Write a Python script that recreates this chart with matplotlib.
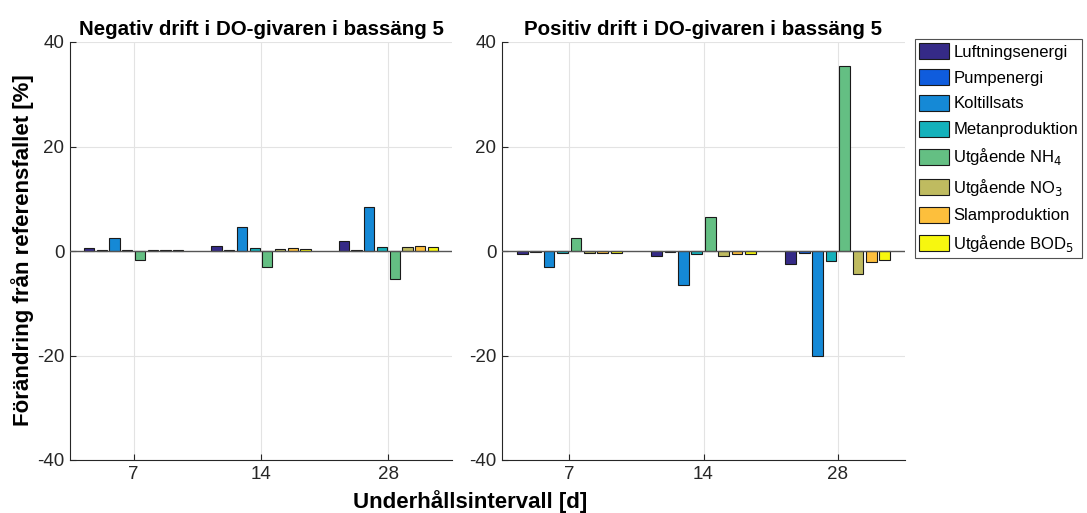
import numpy as np
import matplotlib
matplotlib.use("Agg")
import matplotlib.pyplot as plt

plt.rcParams["font.family"] = ["Liberation Sans", "DejaVu Sans"]
plt.rcParams["axes.unicode_minus"] = False

intervals = ["7", "14", "28"]
series = ["Luftningsenergi", "Pumpenergi", "Koltillsats", "Metanproduktion",
          "Utgående NH$_4$", "Utgående NO$_3$", "Slamproduktion", "Utgående BOD$_5$"]
colors = ["#352a87", "#0f5cdd", "#1589d6", "#14b1bb", "#64bf83", "#bfbb60", "#fdbf3c", "#f7f70f"]

# rows = series, cols = interval 7, 14, 28
neg_drift = [
    [0.5, 0.95, 1.9],
    [0.1, 0.1, 0.15],
    [2.55, 4.65, 8.4],
    [0.25, 0.5, 0.83],
    [-1.8, -3.1, -5.3],
    [0.25, 0.45, 0.7],
    [0.25, 0.5, 0.9],
    [0.25, 0.45, 0.75],
]
pos_drift = [
    [-0.5, -1.0, -2.5],
    [-0.1, -0.2, -0.4],
    [-3.0, -6.5, -20.1],
    [-0.3, -0.65, -1.85],
    [2.55, 6.5, 35.5],
    [-0.45, -0.95, -4.45],
    [-0.45, -0.65, -2.05],
    [-0.35, -0.65, -1.8],
]

fig = plt.figure(figsize=(10.87, 5.13), dpi=100)
W, H = 1087, 513
ax1 = fig.add_axes([70 / W, 53 / H, 382 / W, 418 / H])
ax2 = fig.add_axes([502 / W, 53 / H, 403 / W, 418 / H])


def grouped(ax, data, title):
    x = np.arange(1, len(intervals) + 1)
    n = len(series)
    handles = []
    for i, vals in enumerate(data):
        h = ax.bar(x + (i - (n - 1) / 2) * 0.1, vals, width=0.08, color=colors[i],
                   edgecolor="#1a1a1a", linewidth=0.8, label=series[i], zorder=3)
        handles.append(h)
    ax.axhline(0, color="#555555", linewidth=1.0, zorder=4)
    ax.set_xlim(0.5, 3.5)
    ax.set_ylim(-40, 40)
    ax.set_xticks(x)
    ax.set_xticklabels(intervals)
    ax.set_yticks([-40, -20, 0, 20, 40])
    ax.grid(True, color="#e3e3e3", linewidth=0.8, zorder=0)
    ax.set_axisbelow(True)
    for s in ["top", "right"]:
        ax.spines[s].set_visible(False)
    for s in ["left", "bottom"]:
        ax.spines[s].set_color("#262626")
    ax.tick_params(direction="in", labelsize=13.5, colors="#262626", length=4, pad=4)
    ax.set_title(title, fontsize=14.8, fontweight="bold", pad=5)
    return handles


grouped(ax1, neg_drift, "Negativ drift i DO-givaren i bassäng 5")
handles = grouped(ax2, pos_drift, "Positiv drift i DO-givaren i bassäng 5")

leg = fig.legend(handles, series, loc="upper left", bbox_to_anchor=(915 / W, 1 - 39 / H),
                 fontsize=12, frameon=True, fancybox=False, edgecolor="#262626",
                 handlelength=1.8, handleheight=1.1, handletextpad=0.25,
                 labelspacing=0.55, borderpad=0.25, borderaxespad=0)
leg.get_frame().set_linewidth(0.8)

fig.text(23 / W, 1 - 250 / H, "Förändring från referensfallet [%]", rotation=90,
         ha="center", va="center", fontsize=16, fontweight="bold")
fig.text(470 / W, 1 - 502 / H, "Underhållsintervall [d]", ha="center", va="center",
         fontsize=16, fontweight="bold")

fig.savefig("out.png", dpi=100)
